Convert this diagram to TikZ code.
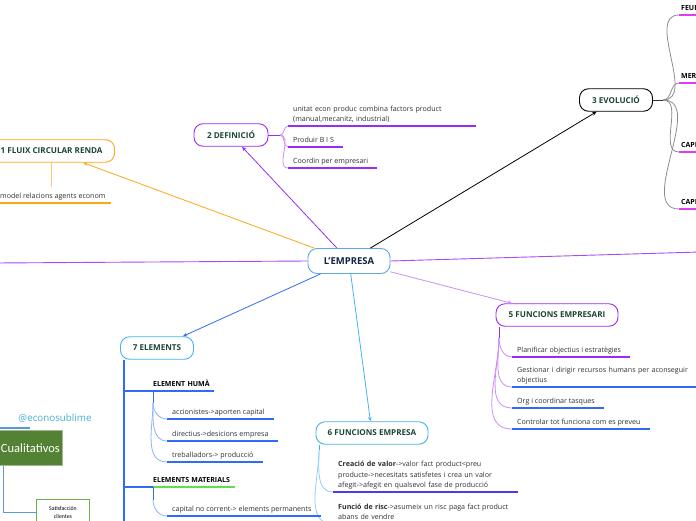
\documentclass[tikz,border=0pt]{standalone}
\usepackage{fontspec}
\setmainfont{Open Sans}
\newfontfamily\calibrifont{Carlito}
\usetikzlibrary{arrows.meta}

\definecolor{empblue}{HTML}{5AA8E4}
\definecolor{navytext}{HTML}{14233F}
\definecolor{titlegreen}{HTML}{1D4536}
\definecolor{fluixorange}{HTML}{FFA31A}
\definecolor{defpurple}{HTML}{9B2BEF}
\definecolor{linkpurple}{HTML}{A54CF2}
\definecolor{twigpurple}{HTML}{CD8DF7}
\definecolor{evomagenta}{HTML}{E03CEB}
\definecolor{elemblue}{HTML}{2F6CF3}
\definecolor{twigblue}{HTML}{8FB2F6}
\definecolor{funcblue}{HTML}{45B2F1}
\definecolor{twiglight}{HTML}{8DD0F4}
\definecolor{valorviolet}{HTML}{4B3BEE}
\definecolor{matgreen}{HTML}{5EE04C}
\definecolor{leafgray}{HTML}{2E2E2E}
\definecolor{handleblue}{HTML}{44AFD2}
\definecolor{cualigreen}{HTML}{548235}
\definecolor{satisgreen}{HTML}{70AD47}
\definecolor{chartblue}{HTML}{5B9BD5}

\begin{document}
\begin{tikzpicture}[
  x=1pt, y=-1pt,
  % --- mind map boxes
  topicbox/.style={draw, fill=white, rounded corners=9pt, line width=0.9pt,
    minimum height=22.5pt, inner xsep=9pt,
    font=\fontsize{8.1}{9}\selectfont\bfseries, text=titlegreen},
  % --- leaf texts sit on an underline (anchor = left end of the underline)
  leaf/.style={anchor=south west, inner xsep=5pt, inner ysep=2.4pt, align=left,
    execute at end node={\vphantom{g}},
    font=\fontsize{7.1}{10.5}\selectfont, text=leafgray},
  headleaf/.style={leaf, inner xsep=0pt,
    font=\fontsize{7}{10.5}\selectfont\bfseries, text=black},
  underline/.style={line width=1.4pt},
  twig/.style={line width=0.8pt},
  link/.style={line width=0.8pt, -{Stealth[length=4.5pt,width=3.6pt]}},
]
\useasboundingbox (0,0) rectangle (696,520);
\clip (0,0) rectangle (696,520);

%========================
% Centre and its links
%========================
\node[topicbox, draw=empblue, text=navytext, minimum width=82pt, minimum height=25pt,
  font=\fontsize{9.5}{11}\selectfont\bfseries] (emp) at (349,261) {L'EMPRESA};

\node[topicbox, draw=fluixorange, anchor=east, inner xsep=12pt] (fluix) at (115,151) {1 FLUIX CIRCULAR RENDA};
\node[topicbox, draw=defpurple, minimum width=74pt] (def) at (231,135) {2 DEFINICIÓ};
\node[topicbox, draw=black, minimum width=73pt] (evo) at (616,100) {3 EVOLUCIÓ};
\node[topicbox, draw=defpurple, minimum width=122pt] (fun5) at (557,315) {5 FUNCIONS EMPRESARI};
\node[topicbox, draw=funcblue, minimum width=112pt] (fun6) at (372,433) {6 FUNCIONS EMPRESA};
\node[topicbox, draw=funcblue, minimum width=73pt] (elem) at (157,348) {7 ELEMENTS};

% branches that leave the picture
\coordinate (farR) at (700,252);
\coordinate (farL) at (-5,263);

\draw[link, fluixorange] (emp) -- (fluix);
\draw[link, defpurple] (emp) -- (def);
\draw[link, black] (emp) -- (evo);
\draw[link, twigpurple] (emp) -- (fun5);
\draw[link, funcblue] (emp) -- (fun6);
\draw[link, elemblue] (emp) -- (elem);
\draw[line width=0.9pt, linkpurple] (emp.east) -- (farR);
\draw[line width=0.9pt, linkpurple] (emp.west) -- (farL);

%========================
% 1 FLUIX CIRCULAR RENDA
%========================
\coordinate (fluixport) at (51,187);
\node[leaf] (fl1) at (-5,203) {model relacions agents econom};
\draw[twig, fluixorange!60] (fluix.south -| fluixport) -- (fluixport);
\draw[underline, fluixorange] (fl1.south west) -- (fl1.south east);

%========================
% 2 DEFINICIÓ
%========================
\coordinate (defport) at (280,135);
\node[leaf, text width=174pt] (def1) at (288,126) {unitat econ produc combina factors product\\(manual,mecanitz, industrial)};
\node[leaf] (def2) at (288,147) {Produir B I S};
\node[leaf] (def3) at (288,168) {Coordin per empresari};
\draw[twig, defpurple] (def.east) -- (defport);
\foreach \n in {def1,def2,def3} {
  \draw[twig, twigpurple] (defport) to[out=0,in=180] (\n.south west);
  \draw[underline, defpurple] (\n.south west) -- ([xshift=4pt]\n.south east);
}

%========================
% 3 EVOLUCIÓ
%========================
\coordinate (evoport) at (663,100);
\node[headleaf, inner xsep=2pt] (evo1) at (679,15) {FEUDALISME};
\node[headleaf, inner xsep=2pt] (evo2) at (679,83) {MERCANTILISME};
\node[headleaf, inner xsep=2pt] (evo3) at (679,152) {CAPITALISME COMERCIAL};
\node[headleaf, inner xsep=2pt] (evo4) at (679,209) {CAPITALISME INDUSTRIAL};
\draw[twig, black!80] (evo.east) -- (evoport);
\foreach \n in {evo1,evo2,evo3,evo4} {
  \draw[twig, black!45] (evoport) to[out=0,in=180] (\n.south west);
  \draw[underline, evomagenta] (\n.south west) -- (\n.south east);
}

%========================
% 5 FUNCIONS EMPRESARI
%========================
\coordinate (f5port) at (499,338);
\node[leaf] (f5a) at (512,357) {Planificar objectius i estratègies};
\node[leaf, text width=200pt] (f5b) at (512,387) {Gestionar i dirigir recursos humans per aconseguir\\objectius};
\node[leaf] (f5c) at (512,408) {Org i coordinar tasques};
\node[leaf] (f5d) at (512,429) {Controlar tot funciona com es preveu};
\draw[twig, defpurple] (fun5.south west -| f5port) -- (f5port);
\foreach \n in {f5a,f5b,f5c,f5d}
  \draw[twig, twigpurple] (f5port) to[out=-90,in=180] (\n.south west);
\draw[underline, defpurple] (f5a.south west) -- ([xshift=4pt]f5a.south east);
\foreach \n in {f5b,f5c,f5d}
  \draw[underline, elemblue] (\n.south west) -- ([xshift=4pt]\n.south east);

%========================
% 6 FUNCIONS EMPRESA
%========================
\coordinate (f6port) at (319,450);
\node[leaf, text width=171pt] (f6a) at (333,492) {\textbf{Creació de valor}->valor fact product<preu\\producte->necesitats satisfetes i crea un valor\\afegit->afegit en qualsevol fase de producció};
\node[leaf, text width=171pt] (f6b) at (333,524) {\textbf{Funció de risc}->asumeix un risc paga fact product\\abans de vendre};
\draw[twig, funcblue] (fun6.south west -| f6port) -- (f6port);
\foreach \n in {f6a,f6b} {
  \draw[twig, twiglight] (f6port) to[out=-90,in=180] (\n.south west);
  \draw[underline, valorviolet] (\n.south west) -- ([xshift=4pt]\n.south east);
}

%========================
% 7 ELEMENTS
%========================
\coordinate (trunkend) at (124,525);
\coordinate (trunkH) at (124,391);
\coordinate (trunkM) at (124,487);
\draw[line width=1.8pt, elemblue] (elem.south -| trunkend) -- (trunkend);

% element humà
\node[headleaf, text width=61pt] (hum) at (153,391) {ELEMENT HUMÀ};
\coordinate (humport) at (153,403);
\draw[underline, elemblue] (trunkH) -- (hum.south east);
\draw[twig, elemblue] (hum.south west) -- (humport);
\node[leaf] (h1) at (167,419) {accionistes->aporten capital};
\node[leaf] (h2) at (167,441) {directius->desicions empresa};
\node[leaf] (h3) at (167,462) {treballadors-> producció};
\foreach \n in {h1,h2,h3} {
  \draw[twig, twigblue] (humport) to[out=-90,in=180] (\n.south west);
  \draw[underline, elemblue] (\n.south west) -- ([xshift=4pt]\n.south east);
}

% elements materials
\node[headleaf, text width=82pt] (mat) at (153,487) {ELEMENTS MATERIALS};
\coordinate (matport) at (153,500);
\draw[underline, elemblue] (trunkM) -- (mat.south west);
\draw[underline, matgreen] (mat.south west) -- (mat.south east);
\draw[twig, elemblue] (mat.south west) -- (matport);
\node[leaf] (m1) at (167,516) {capital no corrent-> elements permanents};
\draw[twig, twigblue] (matport) to[out=-90,in=180] (m1.south west);
\draw[underline, elemblue] (m1.south west) -- ([xshift=4pt]m1.south east);

%========================
% Bottom left corner
%========================
\node[text=handleblue, font=\fontsize{9.8}{11}\selectfont] (handle) at (55,418) {@econosublime};

\node[fill=cualigreen, draw=cualigreen!55, anchor=east, text width=60pt, align=right,
  minimum height=35pt, inner xsep=2pt, text=white,
  font=\calibrifont\fontsize{12.5}{14}\selectfont] (cuali) at (62,448) {Cualitativos};
\coordinate (cualitop) at (30,428);
\coordinate (stem) at (3,510);
\draw[line width=1.2pt, chartblue] (cuali.north west |- cualitop) -- (cualitop);
\node[draw=satisgreen, line width=0.9pt, fill=white, anchor=north west, minimum width=53pt,
  minimum height=26pt, align=center, inner sep=1pt,
  font=\calibrifont\fontsize{5.8}{7.5}\selectfont] (satis) at (36,499) {Satisfacción\\clientes};
\draw[line width=0.9pt, chartblue] (cuali.south -| stem) -- (satis.west -| stem) -- (satis.west);

\end{tikzpicture}
\end{document}
